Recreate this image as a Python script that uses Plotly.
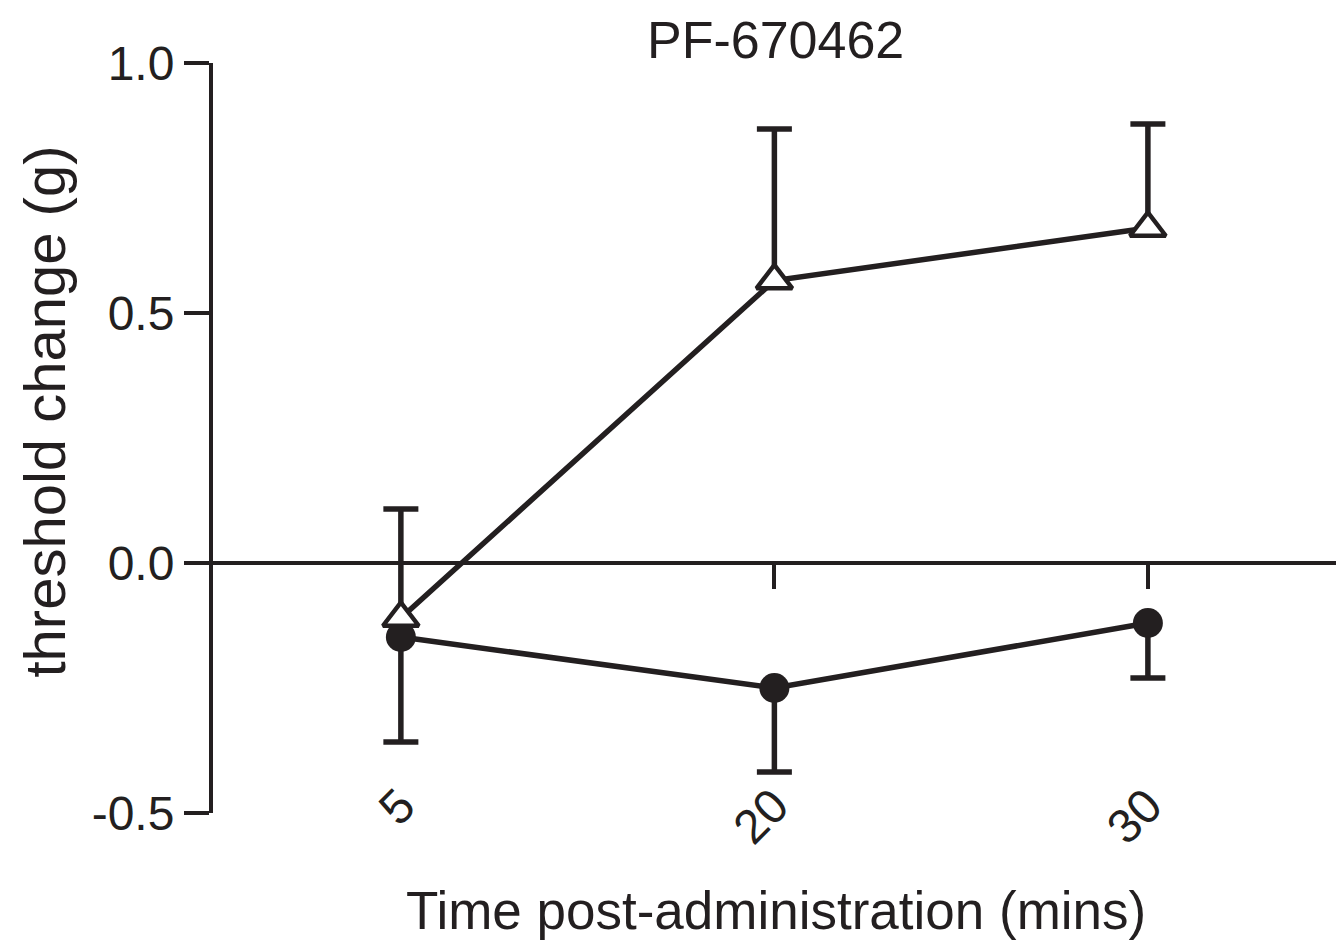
import plotly.graph_objects as go

# ---- data ----
times = ["5", "20", "30"]
tri_mean = [-0.11, 0.565, 0.67]
tri_err_up = [0.218, 0.303, 0.208]
circ_mean = [-0.148, -0.25, -0.12]
circ_err_down = [0.21, 0.168, 0.11]
y_tickvals = [-0.5, 0.0, 0.5, 1.0]
y_ticktext = ["-0.5", "0.0", "0.5", "1.0"]

INK = "#231f20"
FONT = "Liberation Sans, Arial, Helvetica, sans-serif"
LW = 5.5

W, H = 1336, 934
L, T, PW, PH = 205, 55, 1125, 750

fig = go.Figure()

# filled circles series
fig.add_trace(go.Scatter(
    x=times, y=circ_mean, mode="lines+markers",
    line=dict(color=INK, width=LW),
    marker=dict(symbol="circle", size=30, color=INK),
    error_y=dict(type="data", symmetric=False, array=[0] * len(times),
                 arrayminus=circ_err_down, width=0, thickness=LW, color=INK),
    showlegend=False, hoverinfo="skip"))
fig.add_trace(go.Scatter(
    x=times, y=[m - e for m, e in zip(circ_mean, circ_err_down)], mode="markers",
    marker=dict(symbol="line-ew", size=25, line=dict(color=INK, width=LW)),
    showlegend=False, hoverinfo="skip"))

# open triangles series
fig.add_trace(go.Scatter(
    x=times, y=tri_mean, mode="lines+markers",
    line=dict(color=INK, width=LW),
    marker=dict(symbol="triangle-up", size=31, color="white",
                line=dict(color=INK, width=4.5)),
    error_y=dict(type="data", symmetric=False, array=tri_err_up,
                 arrayminus=[0] * len(times), width=0, thickness=LW, color=INK),
    showlegend=False, hoverinfo="skip"))
fig.add_trace(go.Scatter(
    x=times, y=[m + e for m, e in zip(tri_mean, tri_err_up)], mode="markers",
    marker=dict(symbol="line-ew", size=25, line=dict(color=INK, width=LW)),
    showlegend=False, hoverinfo="skip"))

# dummy trace for the zero-line axis
fig.add_trace(go.Scatter(x=times, y=[None] * len(times), xaxis="x2",
                         showlegend=False, hoverinfo="skip"))

xr = [-0.503, 2.509]
fig.update_layout(
    width=W, height=H,
    margin=dict(l=L, r=W - L - PW, t=T, b=H - T - PH),
    paper_bgcolor="white", plot_bgcolor="white",
    font=dict(family=FONT, color=INK, size=48),
    xaxis=dict(type="category", categoryorder="array", categoryarray=times,
               range=xr, showline=False, showgrid=False, zeroline=False,
               ticks="", tickangle=-45, tickfont=dict(size=48),
               ticklabelstandoff=-46),
    xaxis2=dict(type="category", categoryorder="array", categoryarray=times,
                range=xr, overlaying="x", anchor="free", position=1 / 3,
                side="bottom", showline=True, linewidth=4, linecolor=INK,
                ticks="outside", ticklen=24, tickwidth=4, tickcolor=INK,
                showticklabels=False, showgrid=False, zeroline=False),
    yaxis=dict(range=[-0.5, 1.0], tickvals=y_tickvals, ticktext=y_ticktext,
               showline=True, linewidth=4, linecolor=INK,
               ticks="outside", ticklen=25, tickwidth=4, tickcolor=INK,
               showgrid=False, zeroline=False, tickfont=dict(size=48)),
    annotations=[
        dict(text="PF-670462", showarrow=False,
             xref="paper", yref="paper", x=0.5, y=1 + (T - 1) / PH,
             xanchor="center", yanchor="top",
             font=dict(family=FONT, size=52, color=INK)),
        dict(text="threshold change (g)", textangle=-90, showarrow=False,
             xref="paper", yref="paper", x=-(L - 1) / PW, y=(T + PH - 404) / PH,
             xanchor="left", yanchor="middle",
             font=dict(family=FONT, size=58, color=INK)),
        dict(text="Time post-administration (mins)", showarrow=False,
             xref="paper", yref="paper", x=0.5, y=(T + PH - 902) / PH,
             xanchor="center", yanchor="middle",
             font=dict(family=FONT, size=53, color=INK)),
    ],
)

fig.write_html("out.html")
